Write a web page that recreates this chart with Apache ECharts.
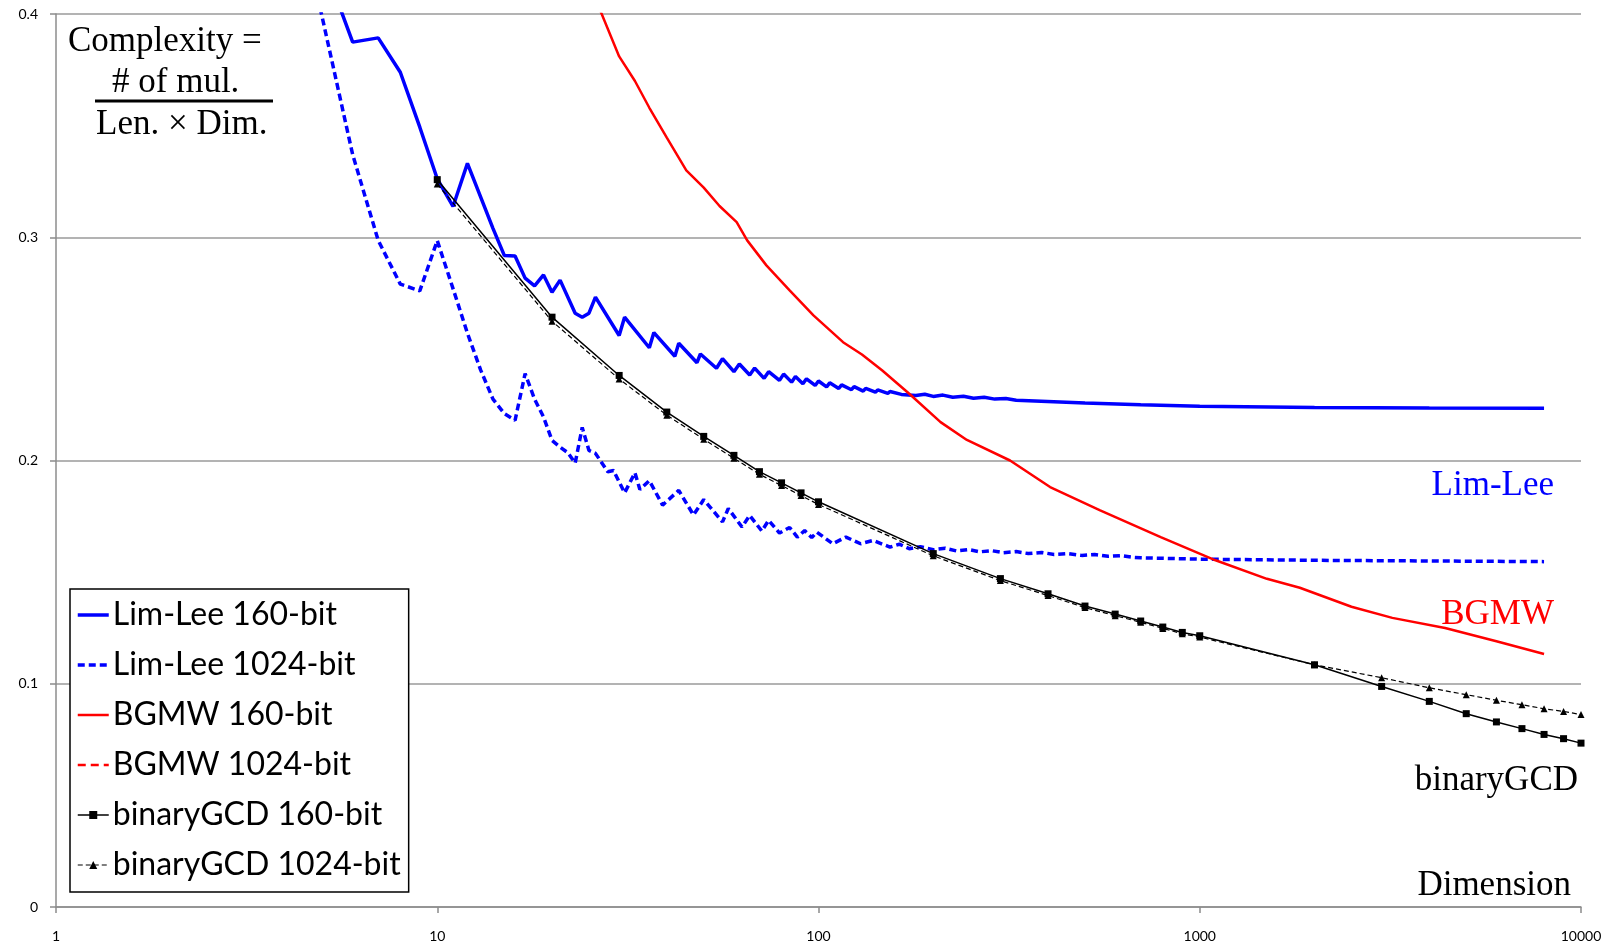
<!DOCTYPE html>
<html>
<head>
<meta charset="utf-8">
<script src="https://cdn.jsdelivr.net/npm/echarts@6.0.0/dist/echarts.min.js"></script>
<style>
  html, body { margin: 0; padding: 0; background: #fff; }
  #chart { width: 1612px; height: 945px; }
</style>
</head>
<body>
<div id="chart"></div>
<script>
// 维度 / 复杂度 数据
const xTicks = [1, 10, 100, 1000, 10000];
const yTicks = [0, 0.1, 0.2, 0.3, 0.4];

// Lim-Lee 160-bit: [dimension, complexity]
const limLee160 = [
  [5, 0.424], [6, 0.3874], [7, 0.3893], [8, 0.3739], [9, 0.3493], [10, 0.3262],
  [11, 0.3138], [12, 0.3331], [13, 0.3180], [14, 0.3040], [15, 0.2918], [16, 0.2916],
  [17, 0.2817], [18, 0.2782], [19, 0.2831], [20, 0.2754], [21, 0.2808], [23, 0.2660],
  [24, 0.2642], [25, 0.2660], [26, 0.2732], [30, 0.2560], [31, 0.2642], [36, 0.2505],
  [37, 0.2573], [42, 0.2467], [43, 0.2525], [48, 0.2438], [49, 0.2477], [54, 0.2413],
  [56, 0.2456], [60, 0.2398], [62, 0.2432], [66, 0.2383], [68, 0.2414], [72, 0.2368],
  [74, 0.2398], [79, 0.2359], [81, 0.2387], [85, 0.2351], [87, 0.2376], [91, 0.2344],
  [93, 0.2366], [98, 0.2336], [100, 0.2356], [105, 0.2330], [107, 0.2348], [113, 0.2323],
  [115, 0.2339], [122, 0.2317], [124, 0.2331], [131, 0.2311], [133, 0.2323], [141, 0.2306],
  [143, 0.2316], [152, 0.2301], [154, 0.2309], [165, 0.2296], [167, 0.2302], [180, 0.2291],
  [190, 0.2297], [200, 0.2287], [212, 0.2293], [225, 0.2283], [240, 0.2288], [255, 0.2279],
  [272, 0.2283], [290, 0.2275], [310, 0.2278], [330, 0.2270], [500, 0.2258], [700, 0.2250],
  [1000, 0.2243], [2000, 0.2237], [4000, 0.2235], [8000, 0.2234]
];

// Lim-Lee 1024-bit
const limLee1024 = [
  [4, 0.470], [5, 0.398], [6, 0.337], [7, 0.2986], [8, 0.2790], [9, 0.2760], [10, 0.2985],
  [11, 0.2770], [12, 0.2570], [13, 0.2405], [14, 0.2275], [15, 0.2210], [16, 0.2180],
  [17, 0.2389], [18, 0.2275], [19, 0.2195], [20, 0.2090], [21, 0.2060], [22, 0.2035],
  [23, 0.1988], [24, 0.2148], [25, 0.2045], [26, 0.2032], [28, 0.1950], [29, 0.1955],
  [31, 0.1855], [33, 0.1945], [34, 0.1870], [36, 0.1910], [39, 0.1800], [43, 0.1866],
  [47, 0.1756], [50, 0.1825], [56, 0.1725], [58, 0.1785], [63, 0.1702], [66, 0.1754],
  [71, 0.1684], [74, 0.1732], [79, 0.1675], [84, 0.1700], [88, 0.1657], [92, 0.1686],
  [96, 0.1655], [99, 0.1679], [109, 0.1627], [118, 0.1657], [129, 0.1627], [139, 0.1642],
  [154, 0.1612], [163, 0.1625], [173, 0.1605], [185, 0.1614], [200, 0.1600], [215, 0.1607],
  [230, 0.1595], [248, 0.1601], [265, 0.1591], [285, 0.1596], [305, 0.1587], [330, 0.1592],
  [355, 0.1583], [385, 0.1588], [415, 0.1579], [450, 0.1583], [490, 0.1575], [530, 0.1579],
  [575, 0.1571], [620, 0.1574], [670, 0.1566], [700, 0.1564], [1000, 0.1558], [2000, 0.1553],
  [4000, 0.1550], [8000, 0.1547]
];

// BGMW 160-bit
const bgmw160 = [
  [24, 0.420], [27, 0.400], [30, 0.381], [33, 0.370], [36, 0.358], [40, 0.3446],
  [45, 0.3300], [50, 0.3222], [55, 0.3140], [61, 0.3068], [65, 0.2986], [73, 0.2874],
  [84, 0.2762], [97, 0.2650], [116, 0.2530], [130, 0.2475], [147, 0.2403], [173, 0.2299],
  [209, 0.2172], [245, 0.2092], [318, 0.2000], [405, 0.1881], [548, 0.1777], [790, 0.1657],
  [1100, 0.1553], [1500, 0.1470], [1830, 0.1430], [2500, 0.1345], [3200, 0.1295],
  [4400, 0.1250], [6000, 0.1190], [8000, 0.1133]
];

// BGMW 1024-bit (全部在 0.4 以上, 图中不可见)
const bgmw1024 = [];

// binaryGCD
const gcdDims = [10, 20, 30, 40, 50, 60, 70, 80, 90, 100, 200, 300, 400, 500, 600, 700, 800, 900,
  1000, 2000, 3000, 4000, 5000, 6000, 7000, 8000, 9000, 10000];
const gcd160 = [0.3258, 0.2642, 0.2381, 0.2217, 0.2108, 0.2023, 0.1950, 0.1900, 0.1855, 0.1815,
  0.1583, 0.1471, 0.1403, 0.1348, 0.1312, 0.1281, 0.1254, 0.1230, 0.1215, 0.1085, 0.0988,
  0.0921, 0.0866, 0.0829, 0.0799, 0.0773, 0.0754, 0.0734];
const gcd1024 = [0.3238, 0.2624, 0.2365, 0.2203, 0.2095, 0.2010, 0.1938, 0.1888, 0.1843, 0.1803,
  0.1573, 0.1462, 0.1395, 0.1341, 0.1305, 0.1275, 0.1248, 0.1224, 0.1209, 0.1085, 0.1027,
  0.0982, 0.0951, 0.0926, 0.0906, 0.0888, 0.0876, 0.0862];

const seriesNames = ['Lim-Lee 160-bit', 'Lim-Lee 1024-bit', 'BGMW 160-bit', 'BGMW 1024-bit',
  'binaryGCD 160-bit', 'binaryGCD 1024-bit'];

let chart;

function zip(xs, ys) {
  return xs.map((x, i) => [x, ys[i]]);
}

function lineSeries(name, data, color, width, type, symbol, symbolSize) {
  return {
    name: name,
    type: 'line',
    data: data,
    symbol: symbol || 'none',
    symbolSize: symbolSize || 0,
    showSymbol: !!symbol,
    clip: true,
    itemStyle: { color: color },
    lineStyle: { color: color, width: width, type: type, cap: 'butt' },
    emphasis: { disabled: true },
    animation: false
  };
}

function serifText(text, x, y, color, align) {
  return {
    type: 'text',
    x: x,
    y: y,
    z: 100,
    style: {
      text: text,
      font: '35px "Liberation Serif"',
      fill: color,
      align: align,
      textAlign: align,
      verticalAlign: 'middle',
      textVerticalAlign: 'middle'
    }
  };
}

// 图例: 无标记的线条隐藏圆点
function legendItem(name, width, hideSymbol) {
  const item = { name: name, lineStyle: { width: width } };
  if (hideSymbol) {
    item.itemStyle = { opacity: 0, borderWidth: 0 };
  }
  return item;
}

function initChart() {
  chart = echarts.init(document.getElementById('chart'), null, { renderer: 'canvas' });

  const option = {
    animation: false,
    backgroundColor: '#fff',
    grid: { left: 56, right: 31, top: 14, bottom: 38 },
    legend: {
      orient: 'vertical',
      left: 70,
      top: 589,
      padding: [8, 8, 9, 6],
      itemGap: 14,
      itemWidth: 31,
      itemHeight: 10,
      backgroundColor: '#fff',
      borderColor: '#000',
      borderWidth: 1.5,
      borderRadius: 0,
      selectedMode: false,
      textStyle: { fontFamily: 'Lato', fontSize: 32, color: '#000', lineHeight: 36, padding: [0, 0, 0, -1] },
      data: [
        legendItem(seriesNames[0], 3.5, true),
        legendItem(seriesNames[1], 3.5, true),
        legendItem(seriesNames[2], 2.5, true),
        legendItem(seriesNames[3], 2.5, true),
        legendItem(seriesNames[4], 1.5, false),
        legendItem(seriesNames[5], 1.2, false)
      ]
    },
    xAxis: {
      type: 'log',
      logBase: 10,
      min: xTicks[0],
      max: xTicks[xTicks.length - 1],
      axisLine: { show: true, lineStyle: { color: '#8c8c8c', width: 1.5 } },
      axisTick: { show: true, length: 6, lineStyle: { color: '#8c8c8c', width: 1.5 } },
      splitLine: { show: false },
      minorTick: { show: false },
      axisLabel: {
        margin: 22,
        fontFamily: 'Lato',
        fontSize: 14,
        color: '#000',
        formatter: function (v) { return String(Math.round(v)); }
      }
    },
    yAxis: {
      type: 'value',
      min: yTicks[0],
      max: yTicks[yTicks.length - 1],
      interval: 0.1,
      axisLine: { show: true, lineStyle: { color: '#8c8c8c', width: 1.5 } },
      axisTick: { show: true, length: 6, lineStyle: { color: '#8c8c8c', width: 1.5 } },
      splitLine: { show: true, lineStyle: { color: '#9a9a9a', width: 1.5 } },
      axisLabel: {
        margin: 18,
        fontFamily: 'Lato',
        fontSize: 14,
        color: '#000',
        formatter: function (v) { return String(Math.round(v * 10) / 10); }
      }
    },
    graphic: [
      serifText('Complexity =', 68, 42, '#000', 'left'),
      serifText('# of mul.', 112, 83, '#000', 'left'),
      {
        type: 'line',
        z: 100,
        shape: { x1: 95, y1: 101, x2: 273, y2: 101 },
        style: { stroke: '#000', lineWidth: 3 }
      },
      serifText('Len. \u00d7 Dim.', 96, 125, '#000', 'left'),
      serifText('Lim-Lee', 1554, 486, '#0000ff', 'right'),
      serifText('BGMW', 1554, 615, '#ff0000', 'right'),
      serifText('binaryGCD', 1578, 781, '#000', 'right'),
      serifText('Dimension', 1571, 886, '#000', 'right')
    ],
    series: [
      lineSeries(seriesNames[0], limLee160, '#0000ff', 3.5, 'solid'),
      lineSeries(seriesNames[1], limLee1024, '#0000ff', 3.5, [7, 4]),
      lineSeries(seriesNames[2], bgmw160, '#ff0000', 2.5, 'solid'),
      lineSeries(seriesNames[3], bgmw1024, '#ff0000', 2.5, [8, 5]),
      lineSeries(seriesNames[4], zip(gcdDims, gcd160), '#000', 1.5, 'solid', 'rect', 7),
      lineSeries(seriesNames[5], zip(gcdDims, gcd1024), '#000', 1.2, [5, 3], 'triangle', 7)
    ]
  };

  chart.setOption(option);
}

window.addEventListener('DOMContentLoaded', initChart);
</script>
</body>
</html>
